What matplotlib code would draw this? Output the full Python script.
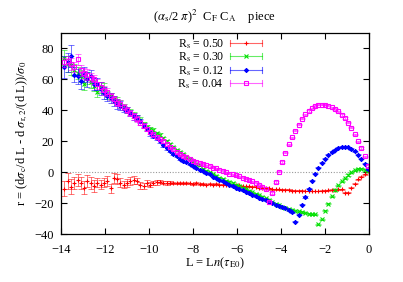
import numpy as np
import matplotlib
matplotlib.use("Agg")
import matplotlib.pyplot as plt
from matplotlib.lines import Line2D
from matplotlib.legend_handler import HandlerBase

plt.rcParams['font.family'] = ['Liberation Serif', 'DejaVu Serif']
plt.rcParams['mathtext.fontset'] = 'stix'
plt.rcParams['font.size'] = 9

# bin centres in L (one per histogram bin, width 0.15)
L = np.round(-14 + 0.15 * np.arange(1, 94), 3)

# Rs = 0.50
r050 = [-10.7, -5.8, -9.4, -6.9, -5.2, -6.9, -10, -5.8, -6.9, -9,
        -6.9, -8, -6.9, -5.8, -10.5, -3.8, -4.4, -6.9, -8, -6.9,
        -5.8, -5, -5.8, -8.6, -9, -6.9, -8, -6.9, -6.5, -6.3,
        -6.9, -7, -6.8, -7, -7.3, -7, -7.3, -7, -7.2, -7.5,
        -7, -7.5, -7.5, -8, -7.5, -8, -7.5, -8, -8, -8,
        -8, -8.5, -8.5, -8.5, -9, -9, -9, -9.5, -9.5, -10,
        -10, -10.5, -10.5, -11, -11, -11, -11.5, -11.5, -11.5, -12,
        -12, -12, -12, -12.2, -12.2, -12.2, -12.2, -12.2, -12, -12,
        -11.8, -11.5, -11.3, -11.2, -11, -13.3, -13.3, -10, -7.5, -4.7,
        -3, -1.5, 0.5]
e050 = [5]*3 + [4]*7 + [3]*8 + [2.5]*4 + [2]*4 + [1.5]*3 + [1]*4 + [0.5]*10 + [0.3]*50

# Rs = 0.30
r030 = [74, 70, 69, 66, 64, 62, 57, 61, 58, 56,
        52, 55, 54, 50, 49, 47, 46, 44, 42, 40,
        39, 37, 35, 34, 31, 29, 28, 27, 25, 24,
        22, 20, 18, 16, 14.5, 13, 11.5, 10, 8.5, 7,
        5.5, 4.5, 2, 1, 0, -1.5, -2.5, -3.5, -4.5, -5.5,
        -6.3, -7, -8, -9, -10, -11, -12, -13, -14, -15,
        -16, -17, -18, -19.5, -20.5, -21.5, -22.3, -23, -23.7, -24.3,
        -24.8, -25.3, -25.8, -26.3, -26.8, -27.2, -27.3, -33.7, -30.5, -25,
        -20.4, -15.5, -11.5, -8.5, -6, -4, -1.8, 0, 1.3, 2.2,
        2.2, 1.7, 1]
e030 = [5, 5, 6] + [4]*5 + [3.5]*5 + [2.5]*5 + [2]*5 + [1.5]*5 + [1]*5 + [0.7]*5 + [0.4]*55

# Rs = 0.12
r012 = [68, 71, 75, 63, 62, 59, 63, 60, 62, 57,
        57, 54, 51, 49, 48, 46, 44, 43, 41, 40,
        38, 36, 35, 33, 30, 28, 25, 23.5, 22, 20,
        17.5, 15.5, 14, 12, 10.5, 8.5, 7.5, 6.5, 5, 4,
        2.5, 1.5, 0.5, -0.5, -1.5, -3, -4, -5, -6, -7,
        -8, -9, -10, -11, -11.8, -12.6, -13.5, -14.5, -15.5, -16.5,
        -17.3, -18, -19, -20, -21, -21.8, -22.6, -23.5, -24.5, -26,
        -32, -27.5, -21, -16, -10.7, -5.5, -1, 2.8, 6, 8.8,
        11.2, 13, 14.5, 15.7, 16.3, 16.4, 16, 15, 13.5, 11.3,
        8.8, 5.5, 2]
e012 = [7, 6, 7] + [5]*5 + [4]*5 + [3]*5 + [2]*5 + [1.5]*5 + [1]*5 + [0.7]*5 + [0.4]*55

# Rs = 0.04
r004 = [71, 72, 70, 68, 73, 66, 64, 63, 61, 60,
        57, 55, 53, 52, 49, 47, 45, 44, 42, 40,
        38, 36, 34.5, 32, 30, 28, 26, 24.5, 23, 21.5,
        20, 18, 16.5, 15, 13, 11.5, 10.5, 9.5, 8.5, 7.5,
        6.5, 6, 5.5, 4.5, 4, 3, 2.5, 1.5, 1, 0,
        -1, -1.5, -2, -2.8, -3.5, -4.2, -5, -5.8, -6.8, -8,
        -9.5, -11.2, -19, -13.5, -6.4, 0.2, 6.5, 12.5, 17.9, 22.6,
        26.9, 30.8, 34.5, 37.5, 39.5, 41.2, 42.8, 43.7, 43.7, 43.7,
        43, 42, 40.8, 39.3, 37, 35, 32, 28.7, 24.5, 20,
        15.6, 10.3, 4]
e004 = [3, 3, 4] + [3.5]*5 + [3]*5 + [2.5]*5 + [2]*5 + [1.5]*5 + [1]*5 + [0.7]*5 + [0.4]*55

labels = [r'R$_{\rm s}$ = 0.50', r'R$_{\rm s}$ = 0.30', r'R$_{\rm s}$ = 0.12', r'R$_{\rm s}$ = 0.04']


class CapLineHandler(HandlerBase):
    # gnuplot style errorbar key: horizontal bar with end caps, point in middle
    def create_artists(self, legend, orig_handle, xdescent, ydescent,
                       width, height, fontsize, trans):
        y = height / 2 - ydescent
        x0, x1 = -xdescent, width - xdescent
        c = orig_handle.get_color()
        h = 2.2
        bar = Line2D([x0, x1], [y, y], color=c, lw=0.8, alpha=0.6)
        caps = Line2D([x0, x0, np.nan, x1, x1], [y - h, y + h, np.nan, y - h, y + h],
                      color=c, lw=0.8, alpha=0.6)
        pt = Line2D([(x0 + x1) / 2], [y], ls='none', marker=orig_handle.get_marker(),
                    color=c, mfc=orig_handle.get_markerfacecolor(),
                    ms=orig_handle.get_markersize(), mew=0.8)
        for a in (bar, caps, pt):
            a.set_transform(trans)
        return [bar, caps, pt]


fig = plt.figure(figsize=(4.03, 2.82), dpi=100)
ax = fig.add_axes([0.1514, 0.1702, 0.7643, 0.7128])

ax.axhline(0, color='#999999', lw=0.8, ls=(0, (1, 1.5)), zorder=0)

series = [(r050, e050, '#ff0000', '+'),
          (r030, e030, '#00e000', 'x'),
          (r012, e012, '#0000ff', (8, 2, 0)),
          (r004, e004, '#ff00ff', 's')]
handles = []
for (y, e, c, m), lab in zip(series, labels):
    mfc = 'none' if m == 's' else c
    ax.errorbar(L, y, yerr=e, fmt='none', ecolor=c, elinewidth=0.7,
                capsize=2.2, capthick=0.7, alpha=0.55)
    ax.plot(L, y, ls='none', marker=m, color=c, mfc=mfc, ms=3.0, mew=0.8)
    handles.append(Line2D([], [], color=c, marker=m, mfc=mfc, ms=3.0))

ax.set_xlim(-14, 0)
ax.set_ylim(-40, 90)
ax.set_xticks(np.arange(-14, 1, 2))
ax.set_yticks(np.arange(-40, 81, 20))
ax.tick_params(direction='in', length=4, width=0.8, top=True, right=True,
               labelsize=9)
ax.tick_params(axis='x', pad=7)
ax.tick_params(axis='y', pad=5)
for s in ax.spines.values():
    s.set_linewidth(0.9)

leg = ax.legend(handles, labels, handler_map={Line2D: CapLineHandler()},
                loc='upper left', bbox_to_anchor=(0.355, 1.015), frameon=False,
                markerfirst=False, handlelength=2.7, handletextpad=0.5,
                labelspacing=0.0, borderaxespad=0.2, fontsize=8.5)

fig.text(0.533, 0.94, r'($\alpha_{\rm s}$/2 $\pi$)$^2$  C$_{\rm F}$ C$_{\rm A}$    piece',
         ha='center', va='center', fontsize=9)
fig.text(0.533, 0.067, r'L = L$n$($\tau_{\rm E0}$)', ha='center', va='center', fontsize=9)
fig.text(0.055, 0.527, r'r = (d$\sigma_{\rm c}$/d L - d $\sigma_{\rm r,2}$/(d L))/$\sigma_0$',
         ha='center', va='center', rotation=90, fontsize=9)

fig.savefig('out.png', dpi=100)
